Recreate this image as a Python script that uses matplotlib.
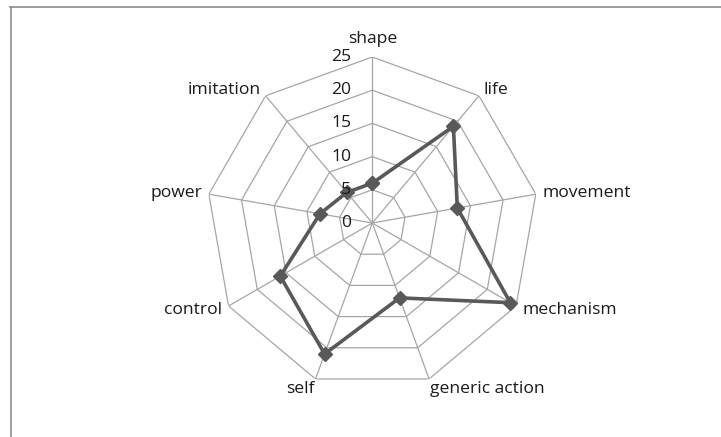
# Radar chart of category scores, Excel style

import numpy as np
import matplotlib
matplotlib.use('Agg')
import matplotlib.pyplot as plt
from matplotlib.lines import Line2D


# Data
categories = ['shape', 'life', 'movement', 'mechanism', 'generic action',
              'self', 'control', 'power', 'imitation']
scores = [6, 19, 13, 24, 12, 21, 16, 8, 6]
rings = [0, 5, 10, 15, 20, 25]

plt.rcParams['font.family'] = ['Open Sans', 'DejaVu Sans']

W, H = 721, 437
fig = plt.figure(figsize=(W / 100, H / 100), dpi=100)
fig.patch.set_facecolor('white')

# Axes centred at (372, 223) px with a 166 px radius
cx, cy, rad = 372.3, 223.0, 166.0
ax = fig.add_axes([(cx - rad) / W, 1 - (cy + rad) / H, 2 * rad / W, 2 * rad / H],
                  projection='polar')
ax.set_theta_zero_location('N')
ax.set_theta_direction(-1)
ax.set_ylim(0, rings[-1])
ax.grid(False)
ax.set_xticks([])
ax.set_yticks([])
ax.spines['polar'].set_visible(False)
ax.patch.set_alpha(0)

n = len(categories)
angles = np.arange(n) * 2 * np.pi / n
closed = np.append(angles, angles[0])

grid_col = '#a6a6a6'
text_col = '#1a1a1a'
fs = 12.6

# Polygon rings
for r in rings[1:]:
    ax.plot(closed, [r] * (n + 1), color=grid_col, lw=0.9, zorder=1)

# Spokes
for a in angles:
    ax.plot([a, a], [0, rings[-1]], color=grid_col, lw=0.9, zorder=1)

# Series
vals = scores + scores[:1]
ax.plot(closed, vals, color='#595959', lw=2.6, marker='D', markersize=7,
        markerfacecolor='#595959', markeredgecolor='#595959', zorder=3, clip_on=False)

# Radial value labels
for r in rings:
    ax.annotate(str(r), xy=(0, r), xytext=(-21, 0), textcoords='offset pixels',
                ha='right', va='center', fontsize=fs, color=text_col, zorder=4)

# Category labels around the outside
for a, lab in zip(angles, categories):
    s, c = np.sin(a), np.cos(a)
    if c > 0.9:
        ha, va, pad = 'center', 'bottom', 10
    elif c < -0.9:
        ha, va, pad = ('left' if s > 0 else 'right'), 'top', 2
    else:
        ha, va, pad = ('left' if s > 0 else 'right'), 'center', 7
    ax.annotate(lab, xy=(a, rings[-1]), xytext=(pad * s, pad * c),
                textcoords='offset pixels', ha=ha, va=va, fontsize=fs,
                color=text_col, annotation_clip=False)

# Chart frame (only left and top edges visible)
frame_col = '#8c8c8c'
fig.add_artist(Line2D([10.8 / W, 10.8 / W], [0, 1 - 6.6 / H], color=frame_col,
                      lw=1.2, transform=fig.transFigure))
fig.add_artist(Line2D([10.2 / W, 1], [1 - 6.6 / H, 1 - 6.6 / H], color=frame_col,
                      lw=1.2, transform=fig.transFigure))

fig.savefig('out.png', dpi=100, facecolor='white')
